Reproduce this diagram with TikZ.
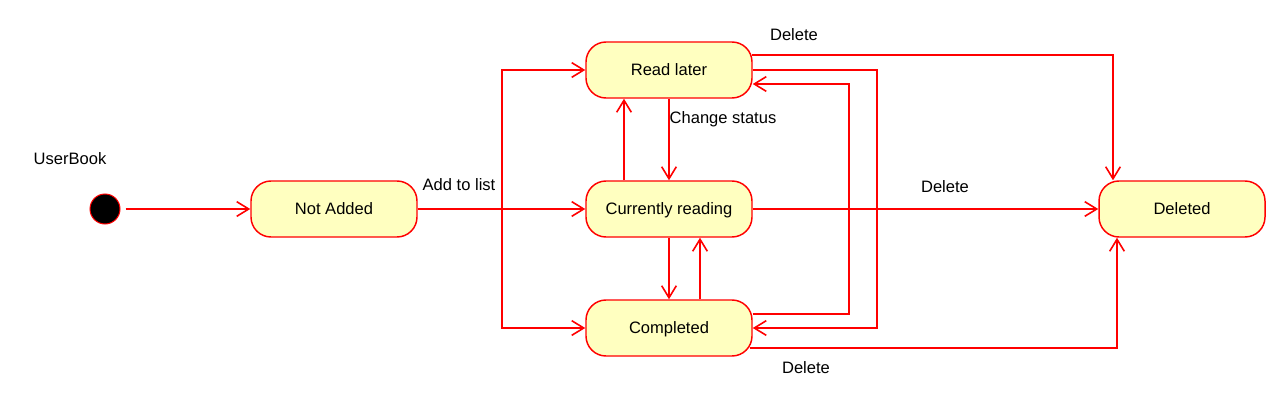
\documentclass[tikz,border=0pt]{standalone}
\usepackage{fontspec}
\setmainfont{Liberation Sans}
\usetikzlibrary{arrows.meta,calc}
\definecolor{umlred}{HTML}{FF0000}
\definecolor{umlfill}{HTML}{FFFFC0}
\newcommand{\diagfont}{\fontsize{12.4pt}{14pt}\selectfont}
\begin{document}
\begin{tikzpicture}[x=0.75pt,y=-0.75pt,
  state/.style={draw=umlred, fill=umlfill, rounded corners=15pt, minimum width=124.5pt, minimum height=42pt, line width=1.1pt, font=\diagfont, inner sep=0pt, text height=8.9pt, text depth=0pt},
  lbl/.style={font=\diagfont, inner sep=0pt, text height=8.9pt, text depth=0pt},
  arr/.style={draw=umlred, line width=1.2pt, -{Straight Barb[length=9pt,width=11pt]}},
  startdot/.style={circle, fill=black, draw=umlred, minimum size=22.5pt, inner sep=0pt, line width=0.75pt}]
\useasboundingbox (0,0) rectangle (1280,403);

\node[state] (readlater) at (669,70) {Read later};
\node[state] (reading) at (669,209) {Currently reading};
\node[state] (completed) at (669,328) {Completed};
\node[state] (notadded) at (334,209) {Not Added};
\node[state] (deleted) at (1182,209) {Deleted};
\node[startdot] (init) at (105,209) {};
\node[lbl] (userbook) at (70,159) {UserBook};

\node[lbl] (addlbl) at (459,185) {Add to list};
\node[lbl] (chglbl) at (723,118) {Change status};
\node[lbl] (del1) at (794,35) {Delete};
\node[lbl] (del2) at (945,187) {Delete};
\node[lbl] (del3) at (806,368) {Delete};

\draw[arr, shorten <=3.75pt] (init) -- (notadded);
\draw[arr] (notadded) -- (reading);
\draw[arr] (notadded.east) -- ++(84.5,0) |- (readlater.west);
\draw[arr] (notadded.east) -- ++(84.5,0) |- (completed.west);
\draw[arr] ($(reading.north)+(-45,0)$) -- ($(readlater.south)+(-45,0)$);
\draw[arr] (readlater) -- (reading);
\draw[arr] (reading) -- (completed);
\draw[arr] ($(completed.north)+(31,0)$) -- ($(reading.south)+(31,0)$);
\draw[arr] (readlater.east) -- ++(124.5,0) |- (completed.east);
\draw[arr] ($(completed.east)+(0,-14)$) -- ++(96.5,0) |- ($(readlater.east)+(0,14)$);
\draw[arr] ($(readlater.east)+(-1,-15)$) -| ($(deleted.north)+(-69,0)$);
\draw[arr] (reading) -- (deleted);
\draw[arr] ($(completed.east)+(-3,20)$) -| ($(deleted.south)+(-65,0)$);
\end{tikzpicture}
\end{document}
